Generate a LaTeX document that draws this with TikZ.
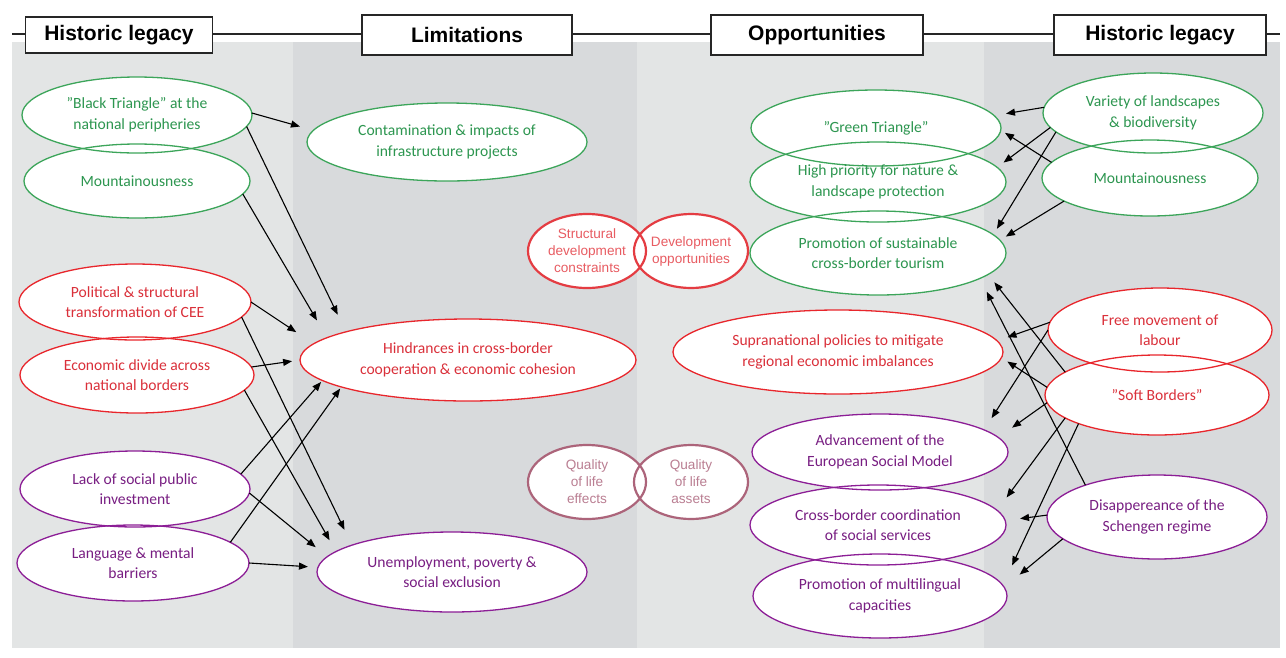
\documentclass[tikz,border=0pt]{standalone}
\usepackage{fontspec}
\setmainfont{Carlito}
\newfontfamily\arialf{Liberation Sans}
\usetikzlibrary{arrows.meta,shapes.geometric}
\pgfdeclarelayer{bg}
\pgfdeclarelayer{fills}
\pgfsetlayers{bg,fills,main}
\definecolor{grnD}{RGB}{60,165,90}
\definecolor{grnT}{RGB}{45,150,80}
\definecolor{redD}{RGB}{232,38,44}
\definecolor{redT}{RGB}{218,48,58}
\definecolor{purD}{RGB}{140,30,150}
\definecolor{purT}{RGB}{120,30,130}
\definecolor{legR}{RGB}{228,60,66}
\definecolor{legRT}{RGB}{232,92,98}
\definecolor{legM}{RGB}{172,100,122}
\definecolor{legMT}{RGB}{186,126,146}
\definecolor{colA}{RGB}{227,229,229}
\definecolor{colB}{RGB}{216,218,220}
\tikzset{
  ell/.style={ellipse, inner xsep=-30pt, inner ysep=-12pt, outer sep=0pt, line width=1.3pt, align=center,
              font=\fontsize{15.6}{20.5}\selectfont},
  legell/.style={ellipse, inner xsep=-10pt, inner ysep=-10pt, outer sep=0pt, line width=2.2pt, align=center,
              font=\arialf\fontsize{13.6}{17}\selectfont},
  hdr/.style={draw=black!85, fill=white, line width=1.3pt, inner sep=0pt,
              font=\arialf\bfseries\fontsize{21}{24}\selectfont},
  arr/.style={-{Triangle[length=9pt,width=7pt]}, line width=1.1pt, black},
}
% name, x, y, rx, ry, style, draw colour, text colour, text
\newcommand\myell[9]{%
  \begin{pgfonlayer}{fills}
    \fill[white] (#2,#3) ellipse [x radius=#4pt, y radius=#5pt];
  \end{pgfonlayer}
  \node[#6, draw=#7, text=#8, minimum width=#4*2pt, minimum height=#5*2pt] (#1) at (#2,#3) {#9};
}
\begin{document}
\begin{tikzpicture}[x=1pt,y=-1pt]
\useasboundingbox (0,0) rectangle (1286,657);
\begin{pgfonlayer}{bg}
  \fill[white] (0,0) rectangle (1286,657);
  \fill[colA] (12,42) rectangle (293,648);
  \fill[colB] (293,42) rectangle (637,648);
  \fill[colA] (637,42) rectangle (984,648);
  \fill[colB] (984,42) rectangle (1280,648);
\end{pgfonlayer}
% header line and boxes
\coordinate (lineL) at (12,34);
\coordinate (lineR) at (1280,34);
\draw[line width=1.3pt, black!85] (lineL) -- (lineR);
\node[hdr, minimum width=187pt, minimum height=36pt] (h1) at (119,35) {Historic legacy};
\node[hdr, minimum width=210pt, minimum height=40pt] (h2) at (467,35) {Limitations};
\node[hdr, minimum width=212pt, minimum height=40pt] (h3) at (817,35) {Opportunities};
\node[hdr, minimum width=212pt, minimum height=40pt] (h4) at (1160,35) {Historic legacy};

% left historic legacy
\myell{bt}{137}{115}{115}{38}{ell}{grnD}{grnT}{”Black Triangle” at the\\national peripheries}
\myell{mt1}{137}{181}{113}{37}{ell}{grnD}{grnT}{Mountainousness}
\myell{pol}{135}{302}{116}{38}{ell}{redD}{redT}{Political \& structural\\transformation of CEE}
\myell{eco}{137}{375}{117}{38}{ell}{redD}{redT}{Economic divide across\\national borders}
\myell{lack}{135}{489}{115}{38}{ell}{purD}{purT}{Lack of social public\\investment}
\myell{lang}{133}{563}{116}{38}{ell}{purD}{purT}{Language \& mental\\barriers}
% limitations
\myell{cont}{447}{142}{140}{39}{ell}{grnD}{grnT}{Contamination \& impacts of\\infrastructure projects}
\myell{hind}{468}{360}{168}{41}{ell}{redD}{redT}{Hindrances in cross-border\\cooperation \& economic cohesion}
\myell{unemp}{452}{572}{135}{40}{ell}{purD}{purT}{Unemployment, poverty \&\\social exclusion}
% legend
\myell{sdc}{587}{251}{59}{37}{legell}{legR}{legRT}{Structural\\development\\constraints}
\myell{dop}{691}{251}{57}{37}{legell}{legR}{legRT}{Development\\opportunities}
\myell{qle}{587}{482}{59}{37}{legell}{legM}{legMT}{Quality\\of life\\effects}
\myell{qla}{691}{482}{57}{37}{legell}{legM}{legMT}{Quality\\of life\\assets}
% opportunities
\myell{gt}{876}{128}{125}{38}{ell}{grnD}{grnT}{”Green Triangle”}
\myell{hp}{878}{182}{128}{40}{ell}{grnD}{grnT}{High priority for nature \&\\landscape protection}
\myell{pst}{878}{253}{128}{42}{ell}{grnD}{grnT}{Promotion of sustainable\\cross-border tourism}
\myell{sup}{838}{352}{165}{42}{ell}{redD}{redT}{Supranational policies to mitigate\\regional economic imbalances}
\myell{adv}{880}{452}{128}{38}{ell}{purD}{purT}{Advancement of the\\European Social Model}
\myell{cbc}{878}{525}{128}{40}{ell}{purD}{purT}{Cross-border coordination\\of social services}
\myell{mul}{880}{596}{127}{42}{ell}{purD}{purT}{Promotion of multilingual\\capacities}
% right historic legacy
\myell{var}{1153}{113}{110}{40}{ell}{grnD}{grnT}{Variety of landscapes\\\& biodiversity}
\myell{mt2}{1150}{178}{108}{38}{ell}{grnD}{grnT}{Mountainousness}
\myell{fml}{1160}{330}{112}{42}{ell}{redD}{redT}{Free movement of\\labour}
\myell{sb}{1157}{395}{112}{40}{ell}{redD}{redT}{”Soft Borders”}
\myell{sch}{1157}{517}{110}{42}{ell}{purD}{purT}{Disappereance of the\\Schengen regime}

% left arrows
\draw[arr, shorten >=14pt] (bt.1) -- (cont.175);
\draw[arr, shorten >=19pt] (bt.-6) -- (hind.167);
\draw[arr, shorten >=20pt] (mt1.-7) -- (hind.171);
\draw[arr, shorten >=21pt] (pol.0) -- (hind.174);
\draw[arr, shorten >=17pt] (pol.-8) -- (unemp.165);
\draw[arr, shorten >=8pt] (eco.4) -- (hind.180);
\draw[arr, shorten >=13pt] (eco.-8) -- (unemp.170);
\draw[arr, shorten >=2pt] (lack.8) -- (hind.188);
\draw[arr, shorten >=2pt] (lang.12) -- (hind.192);
\draw[arr, shorten >=15pt] (lack.-2) -- (unemp.173);
\draw[arr, shorten >=10pt] (lang.0) -- (unemp.178);
% right arrows
\draw[arr, shorten >=12pt] (var.177) -- (gt.6);
\draw[arr, shorten >=8pt] (var.188) -- (hp.7);
\draw[arr, shorten >=7pt] (var.191) -- (pst.9);
\draw[arr, shorten >=5pt] (mt2.171) -- (gt.-1);
\draw[arr, shorten >=7pt] (mt2.195) -- (pst.6);
\draw[arr, shorten >=10pt] (sb.166) -- (pst.-11);
\draw[arr, shorten >=15pt] (sch.156) -- (pst.-14);
\draw[arr, shorten >=11pt] (fml.176) -- (sup.4);
\draw[arr, shorten >=14pt] (fml.180) -- (adv.12);
\draw[arr, shorten >=7pt] (sb.176) -- (sup.-2);
\draw[arr, shorten >=17pt] (sb.184) -- (adv.7);
\draw[arr, shorten >=16pt] (sb.194) -- (cbc.7);
\draw[arr, shorten >=22pt] (sb.200) -- (mul.5);
\draw[arr, shorten >=15pt] (sch.179) -- (cbc.2);
\draw[arr, shorten >=20pt] (sch.193) -- (mul.4);
\end{tikzpicture}
\end{document}
